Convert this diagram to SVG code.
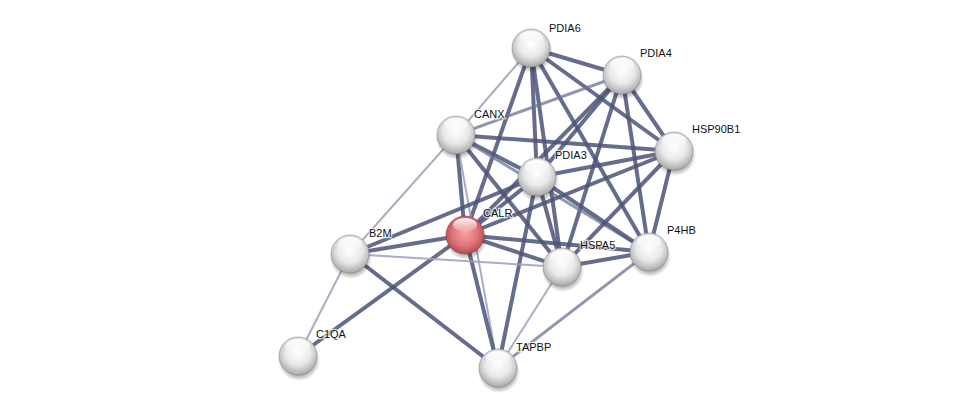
<svg xmlns="http://www.w3.org/2000/svg" width="976" height="414" viewBox="0 0 976 414">
<defs>
<radialGradient id="gw" cx="0.5" cy="0.4" r="0.6">
<stop offset="0" stop-color="#ffffff"/>
<stop offset="0.55" stop-color="#e9e9e9"/>
<stop offset="1" stop-color="#a9a9a9"/>
</radialGradient>
<radialGradient id="gr" cx="0.5" cy="0.45" r="0.6">
<stop offset="0" stop-color="#f7a0a2"/>
<stop offset="0.55" stop-color="#e07479"/>
<stop offset="1" stop-color="#a8444a"/>
</radialGradient>
<linearGradient id="hl" x1="0" y1="0" x2="0" y2="1">
<stop offset="0" stop-color="#ffffff" stop-opacity="0.95"/>
<stop offset="1" stop-color="#ffffff" stop-opacity="0.1"/>
</linearGradient>
<radialGradient id="sh" cx="0.5" cy="0.5" r="0.5">
<stop offset="0.7" stop-color="#000" stop-opacity="0.35"/>
<stop offset="1" stop-color="#000" stop-opacity="0"/>
</radialGradient>
</defs>
<style>
.d{stroke:#4b5478;stroke-width:4;stroke-opacity:0.85;fill:none}
.m{stroke:#6c7494;stroke-width:3;stroke-opacity:0.75;fill:none}
.l{stroke:#9aa0b8;stroke-width:2;stroke-opacity:0.85;fill:none}
.s{fill:url(#sh)}
.b{fill:url(#gw);stroke:#8a8a8a;stroke-width:0.6}
.r{fill:url(#gr);stroke:#9a3a40;stroke-width:0.6}
.h{fill:url(#hl)}
text{font-family:"Liberation Sans",Arial,sans-serif;font-size:11px;fill:#111;stroke:#fff;stroke-width:2.5;stroke-opacity:0.7;paint-order:stroke}
</style>
<rect width="976" height="414" fill="#fff"/>
<g id="edges">
<line class="d" x1="531" y1="48" x2="622" y2="75"/>
<line class="d" x1="531" y1="48" x2="674" y2="151"/>
<line class="d" x1="531" y1="48" x2="537" y2="177"/>
<line class="d" x1="531" y1="48" x2="562" y2="267"/>
<line class="d" x1="531" y1="48" x2="649" y2="252"/>
<line class="d" x1="531" y1="48" x2="465" y2="235"/>
<line class="l" x1="531" y1="48" x2="456" y2="135"/>
<line class="m" x1="622" y1="75" x2="456" y2="135"/>
<line class="d" x1="622" y1="75" x2="537" y2="177"/>
<line class="d" x1="622" y1="75" x2="465" y2="235"/>
<line class="d" x1="622" y1="75" x2="562" y2="267"/>
<line class="d" x1="622" y1="75" x2="649" y2="252"/>
<line class="d" x1="622" y1="75" x2="674" y2="151"/>
<line class="d" x1="456" y1="135" x2="674" y2="151"/>
<line class="d" x1="456" y1="135" x2="537" y2="177"/>
<line class="d" x1="456" y1="135" x2="465" y2="235"/>
<line class="d" x1="456" y1="135" x2="562" y2="267"/>
<line class="m" x1="456" y1="135" x2="649" y2="252"/>
<line class="l" x1="456" y1="135" x2="350" y2="254"/>
<line class="l" x1="456" y1="135" x2="498" y2="368"/>
<line class="d" x1="674" y1="151" x2="537" y2="177"/>
<line class="d" x1="674" y1="151" x2="465" y2="235"/>
<line class="d" x1="674" y1="151" x2="562" y2="267"/>
<line class="d" x1="674" y1="151" x2="649" y2="252"/>
<line class="d" x1="537" y1="177" x2="465" y2="235"/>
<line class="d" x1="537" y1="177" x2="350" y2="254"/>
<line class="d" x1="537" y1="177" x2="562" y2="267"/>
<line class="d" x1="537" y1="177" x2="649" y2="252"/>
<line class="d" x1="537" y1="177" x2="498" y2="368"/>
<line class="d" x1="465" y1="235" x2="350" y2="254"/>
<line class="d" x1="465" y1="235" x2="298" y2="356"/>
<line class="d" x1="465" y1="235" x2="498" y2="368"/>
<line class="d" x1="465" y1="235" x2="562" y2="267"/>
<line class="d" x1="465" y1="235" x2="649" y2="252"/>
<line class="d" x1="562" y1="267" x2="649" y2="252"/>
<line class="l" x1="562" y1="267" x2="350" y2="254"/>
<line class="l" x1="562" y1="267" x2="498" y2="368"/>
<line class="m" x1="649" y1="252" x2="498" y2="368"/>
<line class="d" x1="350" y1="254" x2="498" y2="368"/>
<line class="l" x1="350" y1="254" x2="298" y2="356"/>
</g>
<g id="PDIA6"><circle class="s" cx="532" cy="52" r="21"/><circle class="b" cx="531" cy="48" r="19"/><ellipse class="h" cx="531" cy="38" rx="12" ry="7"/><text x="549" y="32">PDIA6</text></g>
<g id="PDIA4"><circle class="s" cx="623" cy="79" r="21"/><circle class="b" cx="622" cy="75" r="19"/><ellipse class="h" cx="622" cy="65" rx="12" ry="7"/><text x="640" y="57">PDIA4</text></g>
<g id="CANX"><circle class="s" cx="457" cy="139" r="21"/><circle class="b" cx="456" cy="135" r="19"/><ellipse class="h" cx="456" cy="125" rx="12" ry="7"/><text x="474" y="118">CANX</text></g>
<g id="HSP90B1"><circle class="s" cx="675" cy="155" r="21"/><circle class="b" cx="674" cy="151" r="19"/><ellipse class="h" cx="674" cy="141" rx="12" ry="7"/><text x="692" y="133">HSP90B1</text></g>
<g id="PDIA3"><circle class="s" cx="538" cy="181" r="21"/><circle class="b" cx="537" cy="177" r="19"/><ellipse class="h" cx="537" cy="167" rx="12" ry="7"/><text x="555" y="159">PDIA3</text></g>
<g id="CALR"><circle class="s" cx="466" cy="239" r="21"/><circle class="r" cx="465" cy="235" r="19"/><ellipse class="h" cx="465" cy="225" rx="12" ry="7"/><text x="483" y="217">CALR</text></g>
<g id="B2M"><circle class="s" cx="351" cy="258" r="21"/><circle class="b" cx="350" cy="254" r="19"/><ellipse class="h" cx="350" cy="244" rx="12" ry="7"/><text x="369" y="237">B2M</text></g>
<g id="HSPA5"><circle class="s" cx="563" cy="271" r="21"/><circle class="b" cx="562" cy="267" r="19"/><ellipse class="h" cx="562" cy="257" rx="12" ry="7"/><text x="580" y="249">HSPA5</text></g>
<g id="P4HB"><circle class="s" cx="650" cy="256" r="21"/><circle class="b" cx="649" cy="252" r="19"/><ellipse class="h" cx="649" cy="242" rx="12" ry="7"/><text x="667" y="234">P4HB</text></g>
<g id="C1QA"><circle class="s" cx="299" cy="360" r="21"/><circle class="b" cx="298" cy="356" r="19"/><ellipse class="h" cx="298" cy="346" rx="12" ry="7"/><text x="316" y="338">C1QA</text></g>
<g id="TAPBP"><circle class="s" cx="499" cy="372" r="21"/><circle class="b" cx="498" cy="368" r="19"/><ellipse class="h" cx="498" cy="358" rx="12" ry="7"/><text x="516" y="351">TAPBP</text></g>
</svg>
